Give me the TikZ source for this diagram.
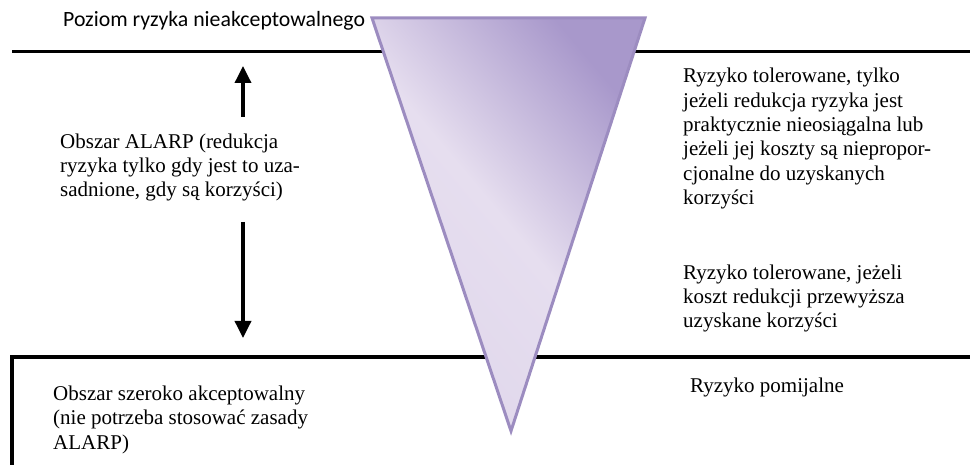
\documentclass[tikz,border=0pt]{standalone}
\usepackage{fontspec}
\setmainfont{Liberation Serif}
\newfontfamily\tnr{Liberation Serif}
\newfontfamily\calib{Carlito}
\usetikzlibrary{arrows.meta}
\definecolor{triedge}{HTML}{9C8CC0}
\definecolor{trilight}{HTML}{E6DEEF}
\definecolor{tridark}{HTML}{A898CB}
\tikzset{
  lbl/.style={anchor=base west, inner sep=0pt, align=left, font=\tnr\fontsize{21}{24.3}\selectfont},
  level/.style={line width=3pt, black},
  bigarrow/.style={line width=3.5pt, -{Triangle[width=16pt,length=17pt]}}
}
\begin{document}
\begin{tikzpicture}[x=1pt,y=-1pt]
\useasboundingbox (0,0) rectangle (970,465);
% levels
\coordinate (tl) at (12,52);
\coordinate (tr) at (970,52);
\coordinate (bl) at (12,357);
\coordinate (br) at (970,357);
\coordinate (bb) at (12,466);
\draw[level] (tl) -- (tr);
\draw[level, line width=3.5pt] (bb) -- (bl) -- (br);
% triangle
\coordinate (ta) at (372,18);
\coordinate (tb) at (645,18);
\coordinate (tc) at (511,431);
\shade[shading=axis, left color=trilight!90!tridark, right color=tridark, middle color=trilight, shading angle=130]
  (ta) -- (tb) -- (tc) -- cycle;
\draw[triedge, line width=3pt, line join=miter] (ta) -- (tb) -- (tc) -- cycle;
% texts (anchor = baseline of last line)
\node[anchor=base west, inner sep=0pt, font=\calib\fontsize{21.8}{24}\selectfont] (top) at (63,27) {Poziom ryzyka nieakceptowalnego};
\node[lbl] (alarp) at (60,197) {Obszar ALARP (redukcja\\ryzyka tylko gdy jest to uza-\\sadnione, gdy są korzyści)};
\node[lbl] (tol1) at (683,204.5) {Ryzyko tolerowane, tylko\\jeżeli redukcja ryzyka jest\\praktycznie nieosiągalna lub\\jeżeli jej koszty są niepropor-\\cjonalne do uzyskanych\\korzyści};
\node[lbl] (tol2) at (683,327.6) {Ryzyko tolerowane, jeżeli\\koszt redukcji przewyższa\\uzyskane korzyści};
\node[lbl] (pom) at (690,392) {Ryzyko pomijalne};
\node[lbl] (szer) at (53,449) {Obszar szeroko akceptowalny\\(nie potrzeba stosować zasady\\ALARP)};
% arrows
\coordinate (u0) at (243,117);
\coordinate (u1) at (243,66);
\coordinate (d0) at (243,222);
\coordinate (d1) at (243,338);
\draw[bigarrow] (u0) -- (u1);
\draw[bigarrow] (d0) -- (d1);
\end{tikzpicture}
\end{document}
